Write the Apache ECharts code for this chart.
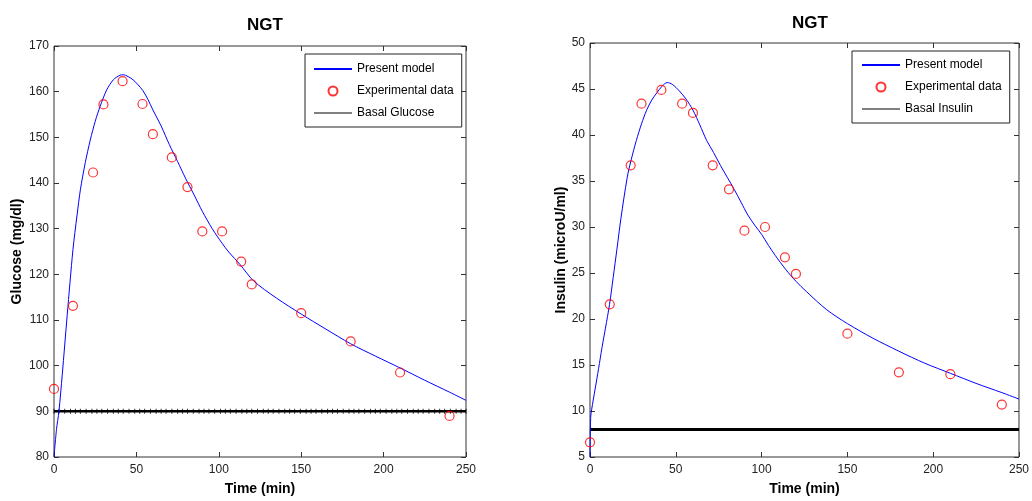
<!DOCTYPE html>
<html>
<head>
<meta charset="utf-8">
<script src="https://cdn.jsdelivr.net/npm/echarts@6/dist/echarts.min.js"></script>
<style>
html,body{margin:0;padding:0;background:#fff;}
#chart{width:1032px;height:501px;}
</style>
</head>
<body>
<div id="chart"></div>
<script>
// ---- data ----
const titles = ['NGT', 'NGT'];
const sampleTimes = [0, 11.5, 23.7, 30, 41.6, 53.7, 60, 71.5, 81, 90, 102, 113.6, 120, 150, 180, 210, 240];
const glucoseExp = [94.9, 113.1, 142.3, 157.2, 162.3, 157.3, 150.7, 145.6, 139.1, 129.4, 129.4, 122.8, 117.8, 111.5, 105.3, 98.5, 89.0];
const insulinExp = [6.6, 21.6, 36.7, 43.4, 44.9, 43.4, 42.4, 36.7, 34.1, 29.6, 30.0, 26.7, 24.9, 18.4, 14.2, 14.0, 10.7];

const glucoseModelTime = [0, 1.5, 3, 5, 8, 11.5, 14, 16, 19, 22, 25, 28, 32, 36, 40, 42, 45, 48, 51, 54, 57, 60, 65, 70, 75, 80, 85, 90, 96, 102, 106, 113, 121, 135, 150, 165, 180, 195, 210, 225, 240, 250];
const glucoseModel = [80, 86, 90, 98, 111, 125.4, 133, 138.5, 144.5, 149.4, 153.5, 156.8, 160.4, 162.6, 163.6, 163.7, 163.3, 162.6, 161.5, 160.2, 158.3, 156, 152.5, 148.4, 144.7, 140.9, 137.4, 133.8, 130, 126.8, 124.9, 122.1, 118.6, 114.8, 111.3, 108, 104.8, 102.1, 99.5, 96.8, 94.2, 92.4];

const insulinModelTime = [0, 0.4, 1, 3, 5, 7, 9, 11.4, 13.5, 15.7, 18, 21.7, 24, 27, 30, 33, 36, 39, 42, 45, 48, 52, 56, 60, 64, 68, 72, 76, 80, 84, 88, 92, 96, 100, 104, 108, 114, 120, 126, 138, 150, 165, 180, 195, 210, 225, 240, 250];
const insulinModel = [5, 9.3, 10.2, 12.4, 14.6, 16.9, 19, 21.6, 24.5, 27.6, 30.9, 35.4, 37.3, 39.4, 41.2, 42.7, 43.8, 44.6, 45.3, 45.7, 45.5, 44.8, 43.9, 42.7, 41.1, 39.4, 38.1, 36.7, 35.4, 34.1, 32.7, 31.3, 30.2, 29.2, 28.0, 26.9, 25.4, 24.1, 23.0, 21.0, 19.5, 17.9, 16.5, 15.2, 14.1, 13.0, 12.0, 11.3];

const basalGlucose = 90;
const basalInsulin = 8;
// time stamps of the markers drawn along the basal glucose line
const basalGlucoseTimes = [0, 3, 6.5, 10, 13, 16, 19.5, 23, 26, 29, 32.5, 36, 39, 42, 45.5, 49, 52, 55, 58.5, 62, 65, 68, 71.5, 75, 78, 81, 84.5, 88, 91, 94, 97.5, 101, 104, 107, 110.5, 114, 117, 120, 123.5, 127, 130, 133, 136.5, 140, 143, 146, 149.5, 153, 156, 159, 162.5, 166, 169, 172, 175.5, 179, 182, 185, 188.5, 192, 195, 198, 201.5, 205, 208, 211, 214.5, 218, 221, 224, 227.5, 231, 234, 237, 240.5, 244, 247, 250];
const timeRange = [0, 250, 50];
const glucoseRange = [80, 170, 10];
const insulinRange = [5, 50, 5];
const seriesNames = ['Present model', 'Experimental data', 'Basal Glucose', 'Basal Insulin'];
const axisNames = ['Time (min)', 'Glucose (mg/dl)', 'Insulin (microU/ml)'];

// ---- chart ----
const FONT = '"Liberation Sans", Arial, sans-serif';
const pairs = (xs, ys) => xs.map((x, i) => [x, ys[i]]);

const grids = [
  {left: 54, right: 566, top: 46, bottom: 44},
  {left: 590, right: 12, top: 43, bottom: 44}
];

function xAx(gi, pos, showLabel) {
  return {
    type: 'value', gridIndex: gi, position: pos,
    min: timeRange[0], max: timeRange[1], interval: timeRange[2],
    name: showLabel ? axisNames[0] : '', nameLocation: 'middle', nameGap: 25,
    nameTextStyle: {fontFamily: FONT, fontWeight: 'bold', fontSize: 14, color: '#000'},
    axisLine: {show: false, onZero: false},
    axisTick: {show: true, inside: true, length: 5, lineStyle: {color: '#333'}},
    axisLabel: {show: showLabel, fontFamily: FONT, fontSize: 12, color: '#222', margin: 7},
    splitLine: {show: false}
  };
}
function yAx(gi, pos, range, name, gap, showLabel) {
  return {
    type: 'value', gridIndex: gi, position: pos,
    min: range[0], max: range[1], interval: range[2],
    name: showLabel ? name : '', nameLocation: 'middle', nameGap: gap, nameRotate: 90,
    nameTextStyle: {fontFamily: FONT, fontWeight: 'bold', fontSize: 14, color: '#000'},
    axisLine: {show: false, onZero: false},
    axisTick: {show: true, inside: true, length: 5, lineStyle: {color: '#333'}},
    axisLabel: {show: showLabel, fontFamily: FONT, fontSize: 12, color: '#222', margin: 5},
    splitLine: {show: false}
  };
}

const hiddenSymbol = {color: 'rgba(0,0,0,0)', borderWidth: 0, opacity: 0};
const legendCommon = {
  orient: 'vertical',
  backgroundColor: '#fff',
  borderColor: '#222', borderWidth: 1,
  itemWidth: 38, itemHeight: 9, itemGap: 8,
  textStyle: {fontFamily: FONT, fontSize: 12, color: '#000', lineHeight: 14},
  selectedMode: false
};

const option = {
  backgroundColor: '#fff',
  animation: false,
  title: [
    {text: titles[0], left: 260, top: 12, textAlign: 'center', textStyle: {fontFamily: FONT, fontWeight: 'bold', fontSize: 17, color: '#000'}},
    {text: titles[1], left: 805, top: 10, textAlign: 'center', textStyle: {fontFamily: FONT, fontWeight: 'bold', fontSize: 17, color: '#000'}}
  ],
  grid: grids.map(g => Object.assign({show: true, borderColor: '#333', borderWidth: 1, backgroundColor: '#fff'}, g)),
  xAxis: [xAx(0, 'bottom', true), xAx(1, 'bottom', true), xAx(0, 'top', false), xAx(1, 'top', false)],
  yAxis: [
    yAx(0, 'left', glucoseRange, axisNames[1], 30, true),
    yAx(1, 'left', insulinRange, axisNames[2], 22, true),
    yAx(0, 'right', glucoseRange, '', 0, false),
    yAx(1, 'right', insulinRange, '', 0, false)
  ],
  legend: [
    Object.assign({}, legendCommon, {
      left: 305, top: 54, padding: [8, 8, 7, 8],
      data: [
        {name: seriesNames[0], itemStyle: hiddenSymbol},
        {name: seriesNames[1]},
        {name: seriesNames[2], itemStyle: hiddenSymbol, lineStyle: {width: 1}}
      ]
    }),
    Object.assign({}, legendCommon, {
      left: 852, top: 51, padding: [7, 8, 7, 9],
      data: [
        {name: seriesNames[0], itemStyle: hiddenSymbol},
        {name: seriesNames[1]},
        {name: seriesNames[3], itemStyle: hiddenSymbol, lineStyle: {width: 1}}
      ]
    })
  ],
  series: [
    {name: seriesNames[2], type: 'line', xAxisIndex: 0, yAxisIndex: 0, symbol: 'none',
     data: [[timeRange[0], basalGlucose], [timeRange[1], basalGlucose]],
     lineStyle: {color: '#000', width: 2.5}, itemStyle: {color: '#000'}, z: 2},
    {name: 'basalGlucoseMarks', type: 'scatter', xAxisIndex: 0, yAxisIndex: 0, symbol: 'rect', symbolSize: [1, 5],
     data: basalGlucoseTimes.map(t => [t, basalGlucose]), itemStyle: {color: '#000'}, z: 2, silent: true},
    {name: seriesNames[0], type: 'line', xAxisIndex: 0, yAxisIndex: 0, symbol: 'none', smooth: 0.3,
     data: pairs(glucoseModelTime, glucoseModel), lineStyle: {color: '#0000ff', width: 1}, itemStyle: {color: '#0000ff'}, z: 3},
    {name: seriesNames[1], type: 'scatter', xAxisIndex: 0, yAxisIndex: 0, symbol: 'circle', symbolSize: 9,
     data: pairs(sampleTimes, glucoseExp),
     itemStyle: {color: 'rgba(0,0,0,0)', borderColor: '#ff0000', borderWidth: 1.2}, z: 4},

    {name: seriesNames[3], type: 'line', xAxisIndex: 1, yAxisIndex: 1, symbol: 'none',
     data: [[timeRange[0], basalInsulin], [timeRange[1], basalInsulin]],
     lineStyle: {color: '#000', width: 3}, itemStyle: {color: '#000'}, z: 2},
    {name: seriesNames[0], type: 'line', xAxisIndex: 1, yAxisIndex: 1, symbol: 'none', smooth: 0.3,
     data: pairs(insulinModelTime, insulinModel), lineStyle: {color: '#0000ff', width: 1}, itemStyle: {color: '#0000ff'}, z: 3},
    {name: seriesNames[1], type: 'scatter', xAxisIndex: 1, yAxisIndex: 1, symbol: 'circle', symbolSize: 9,
     data: pairs(sampleTimes, insulinExp),
     itemStyle: {color: 'rgba(0,0,0,0)', borderColor: '#ff0000', borderWidth: 1.2}, z: 4}
  ]
};

const chart = echarts.init(document.getElementById('chart'), null, {renderer: 'canvas'});
chart.setOption(option);
</script>
</body>
</html>
